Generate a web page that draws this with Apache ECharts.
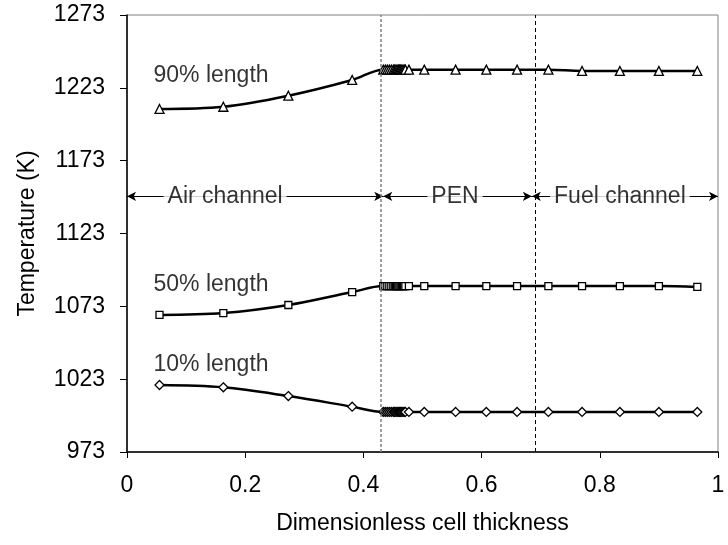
<!DOCTYPE html>
<html>
<head>
    <meta charset="utf-8">
    <title>Temperature profile</title>
    <script src="https://cdn.jsdelivr.net/npm/echarts@6/dist/echarts.min.js"></script>
    <style>
        body { margin: 0; background: #fff; }
        #main { width: 728px; height: 545px; }
    </style>
</head>
<body>
    <div id="main"></div>
    <script>
        // dimensionless cell thickness (shared by all three curves)
        var thickness = [0.055, 0.163, 0.273, 0.381, 0.4336, 0.437, 0.4404, 0.4438, 0.4472, 0.4506,
            0.453, 0.455, 0.457, 0.459, 0.461, 0.463, 0.465, 0.467, 0.469, 0.471, 0.477,
            0.503, 0.556, 0.608, 0.660, 0.713, 0.770, 0.834, 0.900, 0.965];

        // temperature (K) at 90%, 50%, 10% of cell length
        var temp90 = [1208.5, 1210.0, 1217.6, 1228.4, 1235.5, 1235.5, 1235.5, 1235.5, 1235.5, 1235.5,
            1235.5, 1235.5, 1235.5, 1235.5, 1235.5, 1235.5, 1235.5, 1235.5, 1235.5, 1235.5, 1235.5,
            1235.5, 1235.5, 1235.5, 1235.5, 1235.5, 1234.6, 1234.6, 1234.6, 1234.6];
        var temp50 = [1067.1, 1068.4, 1073.9, 1082.8, 1086.9, 1086.9, 1086.9, 1086.9, 1086.9, 1086.9,
            1086.9, 1086.9, 1086.9, 1086.9, 1086.9, 1086.9, 1086.9, 1086.9, 1086.9, 1086.9, 1086.9,
            1086.9, 1086.9, 1086.9, 1086.9, 1086.9, 1086.9, 1086.9, 1086.9, 1086.3];
        var temp10 = [1019.0, 1017.4, 1011.4, 1004.1, 1000.5, 1000.5, 1000.5, 1000.5, 1000.5, 1000.5,
            1000.5, 1000.5, 1000.5, 1000.5, 1000.5, 1000.5, 1000.5, 1000.5, 1000.5, 1000.5, 1000.5,
            1000.5, 1000.5, 1000.5, 1000.5, 1000.5, 1000.5, 1000.5, 1000.5, 1000.5];

        // region boundaries and labels
        var boundaries = [0.4336, 0.685];
        var regionY = 1148.5;
        var regionNames = ['Air channel', 'PEN', 'Fuel channel'];
        var regionLabelX = [0.166, 0.555, 0.834];
        var curveNames = ['90% length', '50% length', '10% length'];
        var curveLabelPos = [[0.044, 1231.1], [0.044, 1087.6], [0.044, 1032.7]];

        var font = 'Liberation Sans, Arial, sans-serif';
        var fs = 23;

        function pairs(ys) {
            return thickness.map(function (x, i) { return [x, ys[i]]; });
        }

        function curve(name, ys, symbol, size) {
            return {
                name: name,
                type: 'line',
                data: pairs(ys),
                smooth: 0.35,
                symbol: symbol,
                symbolSize: size,
                showAllSymbol: true,
                lineStyle: { color: '#000', width: 2.5 },
                itemStyle: { color: '#fff', borderColor: '#000', borderWidth: 1.3 },
                z: 3
            };
        }

        var edges = [0].concat(boundaries).concat([1]);
        var arrowLines = [];
        for (var i = 0; i < 3; i++) {
            arrowLines.push([{ coord: [edges[i], regionY] }, { coord: [edges[i + 1], regionY] }]);
        }

        var annotations = [];
        regionNames.forEach(function (n, i) {
            annotations.push({
                name: n, value: [regionLabelX[i], regionY],
                label: { position: 'inside', backgroundColor: '#fff', padding: [0, 4] }
            });
        });
        curveNames.forEach(function (n, i) {
            annotations.push({
                name: n, value: curveLabelPos[i],
                label: { position: 'right', distance: 0 }
            });
        });

        var myChart = echarts.init(document.getElementById('main'));

        var option = {
            animation: false,
            backgroundColor: '#fff',
            grid: {
                left: 127, right: 10, top: 15, bottom: 93,
                show: true, borderColor: '#808080', borderWidth: 1
            },
            xAxis: {
                type: 'value',
                min: 0, max: 1, interval: 0.2,
                name: 'Dimensionless cell thickness',
                nameLocation: 'middle',
                nameGap: 60,
                nameTextStyle: { fontFamily: font, fontSize: fs, color: '#000' },
                axisLine: { lineStyle: { color: '#000', width: 1.5 } },
                axisTick: { inside: false, length: 6, lineStyle: { color: '#000' } },
                axisLabel: { fontFamily: font, fontSize: fs, color: '#000', margin: 22 },
                splitLine: { show: false }
            },
            yAxis: {
                type: 'value',
                min: 973, max: 1273, interval: 50,
                name: 'Temperature (K)',
                nameLocation: 'middle',
                nameGap: 88,
                nameTextStyle: { fontFamily: font, fontSize: fs, color: '#000' },
                axisLine: { show: true, lineStyle: { color: '#000', width: 1.5 } },
                axisTick: { show: true, length: 7, lineStyle: { color: '#000' } },
                axisLabel: {
                    fontFamily: font, fontSize: fs, color: '#000', margin: 22,
                    formatter: function (v) { return String(v); }
                },
                splitLine: { show: false }
            },
            series: [
                curve('90%', temp90, 'triangle', 9),
                curve('50%', temp50, 'rect', 7),
                curve('10%', temp10, 'diamond', 9),
                {
                    name: 'regions',
                    type: 'line',
                    data: [],
                    z: 1,
                    markLine: {
                        silent: true,
                        symbol: ['arrow', 'arrow'],
                        symbolSize: [7, 9],
                        label: { show: false },
                        lineStyle: { color: '#000', width: 1, type: 'solid' },
                        data: arrowLines
                    }
                },
                {
                    name: 'boundaries',
                    type: 'line',
                    data: [],
                    z: 1,
                    markLine: {
                        silent: true,
                        symbol: ['none', 'none'],
                        label: { show: false },
                        data: [
                            { xAxis: boundaries[0], lineStyle: { color: '#808080', width: 1.5, type: [3, 2] } },
                            { xAxis: boundaries[1], lineStyle: { color: '#000', width: 1, type: [4, 3] } }
                        ]
                    }
                },
                {
                    name: 'labels',
                    type: 'scatter',
                    symbolSize: 1,
                    itemStyle: { color: 'rgba(0,0,0,0)' },
                    z: 5,
                    label: {
                        show: true,
                        formatter: '{b}',
                        fontFamily: font,
                        fontSize: fs,
                        color: '#000'
                    },
                    data: annotations
                }
            ]
        };
        myChart.setOption(option);
    </script>
</body>
</html>
